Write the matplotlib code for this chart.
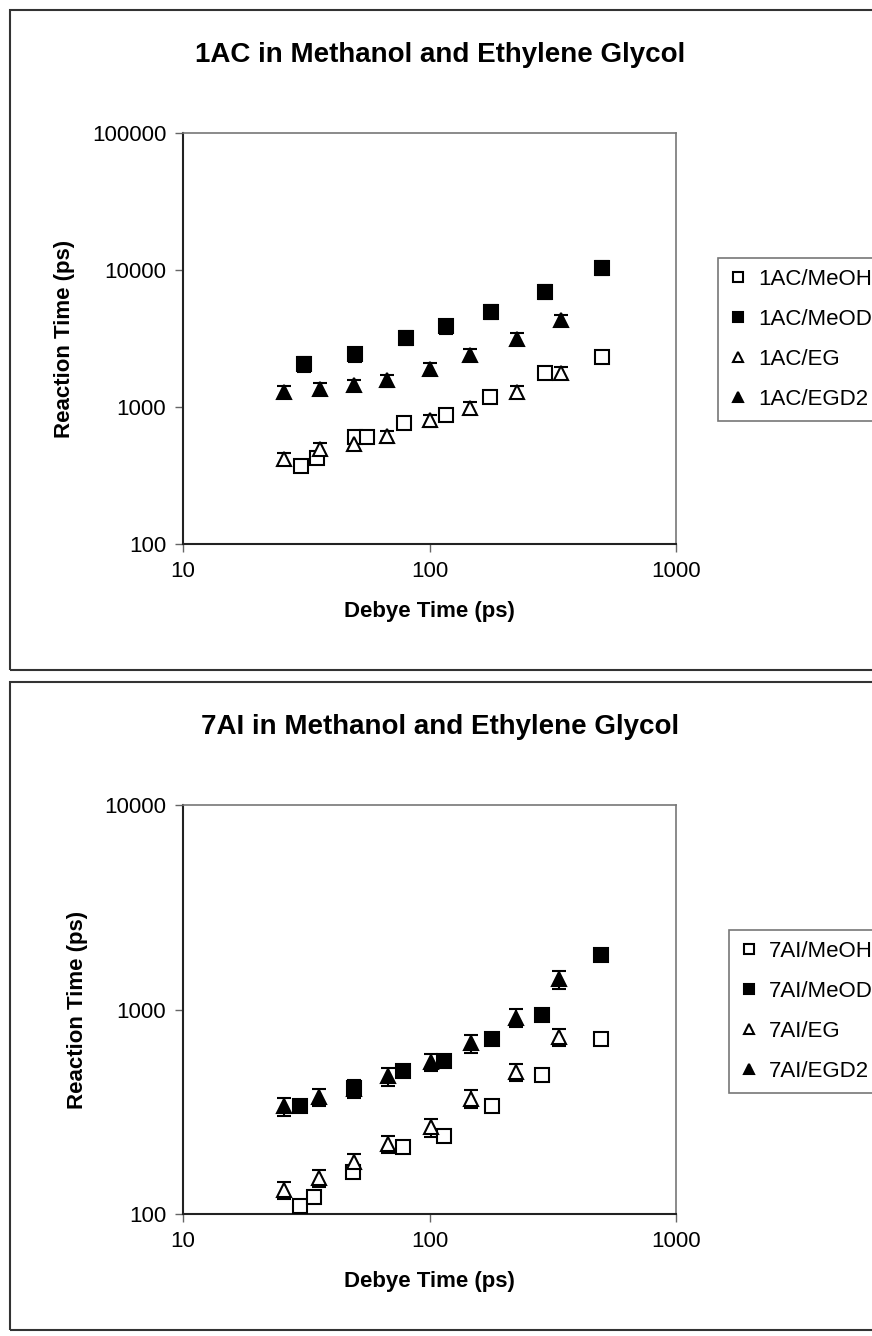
import numpy as np
import matplotlib
matplotlib.use("Agg")
import matplotlib.pyplot as plt
from matplotlib.patches import Rectangle
from matplotlib.ticker import NullLocator, FixedLocator, FixedFormatter

plt.rcParams['font.family'] = ['Liberation Sans', 'DejaVu Sans']

# --- 1AC (top panel) ---
ac_meoh_x = [30, 35, 50, 56, 79, 117, 176, 293, 500]
ac_meoh_y = [374, 426, 603, 603, 764, 869, 1183, 1783, 2323]

ac_meod_x = [31, 50, 80, 117, 178, 294, 500]
ac_meod_y = [2053, 2428, 3199, 3890, 4955, 6940, 10400]
ac_meod_err = [250, 290, 380, 460, 590, 830, 1250]

ac_eg_x = [25.8, 35.9, 49.2, 67.5, 100, 146, 227, 340]
ac_eg_y = [419, 495, 540, 610, 798, 988, 1288, 1783]
ac_eg_err = [42, 50, 54, 61, 80, 99, 129, 178]

ac_egd2_x = [25.8, 35.9, 49.4, 67.5, 100.5, 146, 227, 340]
ac_egd2_y = [1288, 1361, 1442, 1568, 1907, 2414, 3162, 4303]
ac_egd2_err = [129, 136, 144, 157, 191, 241, 316, 430]

# --- 7AI (bottom panel) ---
ai_meoh_x = [29.8, 34, 49, 78.4, 115, 179, 287, 494]
ai_meoh_y = [110, 121, 160, 212, 242, 339, 476, 717]

ai_meod_x = [29.8, 49.2, 78.4, 115, 179, 287, 494]
ai_meod_y = [339, 414, 498, 557, 717, 940, 1849]

ai_eg_x = [25.8, 35.6, 49.4, 67.6, 101, 148, 225, 336]
ai_eg_y = [131, 150, 179, 220, 266, 366, 494, 733]
ai_eg_err = [13, 15, 18, 22, 27, 37, 49, 73]

ai_egd2_x = [25.8, 35.6, 49.4, 67.6, 101, 148, 225, 336]
ai_egd2_y = [336, 373, 409, 471, 553, 685, 912, 1406]
ai_egd2_err = [34, 37, 41, 47, 55, 69, 91, 141]

x_ticks = [10, 100, 1000]
top_yticks = [100, 1000, 10000, 100000]
bot_yticks = [100, 1000, 10000]

W, H = 872, 1336
fig = plt.figure(figsize=(W / 100, H / 100), dpi=100)

def fx(px):
    return px / W

def fy(py):
    return 1 - py / H

# chart area frames
fig.add_artist(Rectangle((fx(10), fy(670)), 1.2, fy(10) - fy(670), transform=fig.transFigure,
                         fill=False, ec='#333333', lw=1.5))
fig.add_artist(Rectangle((fx(10), fy(1330)), 1.2, fy(682) - fy(1330), transform=fig.transFigure,
                         fill=False, ec='#333333', lw=1.5))


def panel(rect, yticks, series, title, title_y, leg_xy):
    ax = fig.add_axes(rect)
    ax.set_xscale('log')
    ax.set_yscale('log')
    ax.set_xlim(x_ticks[0], x_ticks[-1])
    ax.set_ylim(yticks[0], yticks[-1])
    for xs, ys, err, mk, fc, lab in series:
        if err is not None:
            ax.errorbar(xs, ys, yerr=err, fmt='none', ecolor='black', elinewidth=1.5,
                        capsize=5, capthick=1.5, zorder=2)
        ax.plot(xs, ys, ls='none', marker=mk, ms=10, mfc=fc, mec='black', mew=1.5,
                label=lab, zorder=3)
    ax.xaxis.set_major_locator(FixedLocator(x_ticks))
    ax.xaxis.set_major_formatter(FixedFormatter([str(t) for t in x_ticks]))
    ax.yaxis.set_major_locator(FixedLocator(yticks))
    ax.yaxis.set_major_formatter(FixedFormatter([str(t) for t in yticks]))
    ax.xaxis.set_minor_locator(NullLocator())
    ax.yaxis.set_minor_locator(NullLocator())
    ax.tick_params(direction='out', length=6, width=1, color='#666666', labelsize=16, pad=6)
    for s in ['left', 'bottom']:
        ax.spines[s].set_color('#222222')
        ax.spines[s].set_linewidth(1.5)
    for s in ['top', 'right']:
        ax.spines[s].set_color('#777777')
        ax.spines[s].set_linewidth(1.2)
    ax.set_xlabel('Debye Time (ps)', fontsize=16, fontweight='bold', labelpad=14)
    ax.set_ylabel('Reaction Time (ps)', fontsize=16, fontweight='bold', labelpad=12)
    fig.text(0.505, title_y, title, ha='center', va='center', fontsize=20, fontweight='bold')
    leg = ax.legend(loc='upper left', bbox_to_anchor=leg_xy, bbox_transform=fig.transFigure,
                    fontsize=16, frameon=True, fancybox=False, edgecolor='#555555',
                    markerscale=0.7, handlelength=0.8, handletextpad=0.5, labelspacing=0.85,
                    borderpad=0.5, borderaxespad=0)
    leg.get_frame().set_linewidth(1.2)
    return ax


top_series = [
    (ac_meoh_x, ac_meoh_y, None, 's', 'white', '1AC/MeOH'),
    (ac_meod_x, ac_meod_y, ac_meod_err, 's', 'black', '1AC/MeOD'),
    (ac_eg_x, ac_eg_y, ac_eg_err, '^', 'white', '1AC/EG'),
    (ac_egd2_x, ac_egd2_y, ac_egd2_err, '^', 'black', '1AC/EGD2'),
]
bot_series = [
    (ai_meoh_x, ai_meoh_y, None, 's', 'white', '7AI/MeOH'),
    (ai_meod_x, ai_meod_y, None, 's', 'black', '7AI/MeOD'),
    (ai_eg_x, ai_eg_y, ai_eg_err, '^', 'white', '7AI/EG'),
    (ai_egd2_x, ai_egd2_y, ai_egd2_err, '^', 'black', '7AI/EGD2'),
]

panel([fx(183), fy(544), fx(676) - fx(183), fy(133) - fy(544)], top_yticks, top_series,
      '1AC in Methanol and Ethylene Glycol', fy(55), (fx(718), fy(258)))
panel([fx(183), fy(1214), fx(676) - fx(183), fy(805) - fy(1214)], bot_yticks, bot_series,
      '7AI in Methanol and Ethylene Glycol', fy(727), (fx(729), fy(930)))

fig.savefig('out.png', dpi=100)
